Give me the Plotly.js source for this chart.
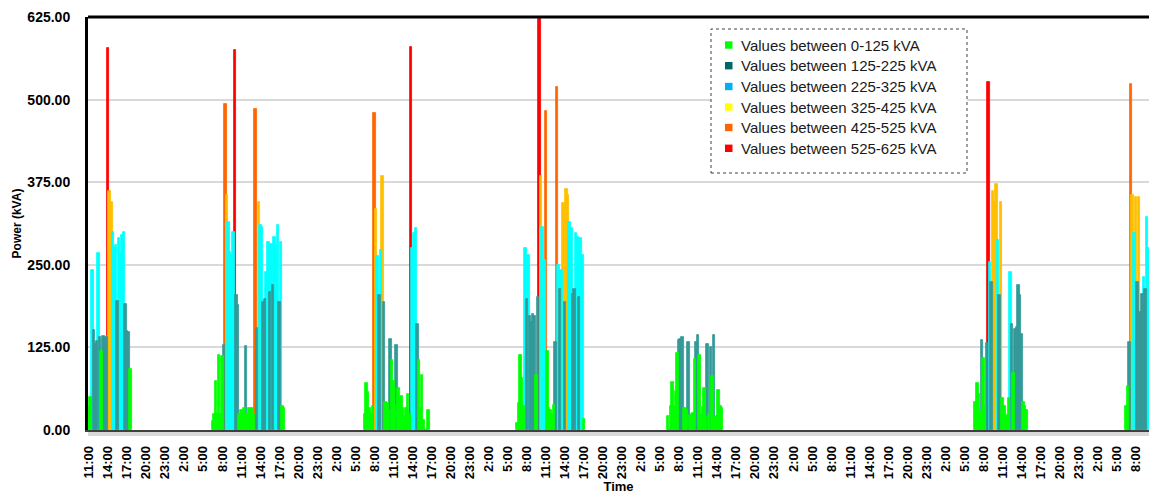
<!DOCTYPE html>
<html>
<head>
<meta charset="utf-8">
<script src="https://cdn.plot.ly/plotly-3.0.1.min.js"></script>
<style>
  html, body { margin: 0; padding: 0; background: #fff; }
  #chart { width: 1149px; height: 497px; }
</style>
</head>
<body>
<div id="chart"></div>
<script>
// Apparent power readings (kVA), one value every 15 minutes during working hours.
// Each block starts at the given timestamp; the plant is idle (0 kVA) outside them.
const startDay1 = '2019-04-02T11:00:00Z';
const powerDay1 = [35, 50, 242, 151, 130, 135, 268, 140, 120, 142, 138, 140, 578, 362, 345, 300, 275, 280, 195, 290, 270, 295, 300, 190, 150, 148, 92];

const startDay2 = '2019-04-03T06:30:00Z';
const powerDay2 = [14, 24, 74, 24, 114, 24, 112, 129, 494, 355, 315, 270, 265, 300, 575, 204, 189, 24, 30, 24, 34, 127, 24, 34, 22, 34, 24, 486, 155, 345, 310, 307, 194, 199, 239, 285, 209, 282, 219, 292, 280, 310, 194, 285, 36, 34];

const startDay3 = '2019-04-04T06:30:00Z';
const powerDay3 = [24, 71, 58, 34, 24, 36, 479, 335, 263, 204, 272, 384, 194, 43, 41, 31, 138, 106, 74, 38, 128, 63, 34, 52, 34, 21, 34, 55, 24, 580, 275, 298, 305, 161, 106, 34, 83, 15, 0, 0, 31];

const startDay4 = '2019-04-05T06:30:00Z';
const powerDay4 = [10, 41, 114, 78, 36, 275, 199, 265, 172, 164, 176, 172, 83, 201, 622, 384, 307, 258, 482, 119, 34, 30, 24, 38, 133, 519, 249, 214, 242, 343, 194, 365, 355, 315, 305, 206, 214, 298, 292, 201, 290, 265, 17];

const startDay5 = '2019-04-06T06:15:00Z';
const powerDay5 = [21, 0, 36, 72, 35, 59, 117, 136, 138, 141, 33, 33, 30, 133, 23, 24, 25, 108, 133, 144, 113, 22, 35, 63, 20, 130, 24, 125, 82, 144, 20, 21, 60, 37, 34];

const startDay7 = '2019-04-08T06:45:00Z';
const powerDay7 = [43, 71, 55, 28, 136, 109, 36, 131, 527, 254, 224, 362, 345, 373, 287, 204, 345, 48, 36, 17, 22, 48, 239, 161, 86, 153, 156, 219, 204, 146, 43, 36, 31];

const startDay8 = '2019-04-09T06:30:00Z';
const powerDay8 = [36, 66, 133, 524, 356, 298, 352, 224, 352, 179, 206, 232, 214, 323, 275];

// Value bands and their colours
const bandNames = [
  'Values between 0-125 kVA',
  'Values between 125-225 kVA',
  'Values between 225-325 kVA',
  'Values between 325-425 kVA',
  'Values between 425-525 kVA',
  'Values between 525-625 kVA'
];
const bandUpper = [125, 225, 325, 425, 525, 625];
const barColors = ['#00FF00', '#339999', '#00FFFF', '#FFC000', '#FF6600', '#FF0000'];
const keyColors = ['#00FF00', '#006666', '#00B0F0', '#FFFF00', '#FF6600', '#FF0000'];

const STEP_MS = 15 * 60 * 1000;

const blocks = [
  [startDay1, powerDay1], [startDay2, powerDay2], [startDay3, powerDay3],
  [startDay4, powerDay4], [startDay5, powerDay5], [startDay7, powerDay7],
  [startDay8, powerDay8]
];

function stamp(ms) {
  return new Date(ms).toISOString().slice(0, 19).replace('T', ' ');
}

function bandOf(v) {
  for (let b = 0; b < bandUpper.length; b++) {
    if (v < bandUpper[b]) return b;
  }
  return bandUpper.length - 1;
}

const bandX = bandNames.map(() => []);
const bandY = bandNames.map(() => []);
blocks.forEach(([start, values]) => {
  const t0 = Date.parse(start);
  values.forEach((v, i) => {
    const b = bandOf(v);
    bandX[b].push(stamp(t0 + i * STEP_MS));
    bandY[b].push(v);
  });
});

// Highest band first so the lower bands are painted on top of it
const traces = [];
for (let b = bandNames.length - 1; b >= 0; b--) {
  traces.push({
    type: 'bar',
    name: bandNames[b],
    x: bandX[b],
    y: bandY[b],
    width: STEP_MS * 1.6,
    marker: { color: barColors[b], line: { width: 0.8, color: barColors[b] } },
    showlegend: false
  });
}

const FONT = 'Liberation Sans, Arial, sans-serif';

// Key box, placed in pixel terms of the plot area (88..1149 x 17..430)
const PLOT_L = 88, PLOT_W = 1061, PLOT_B = 430, PLOT_H = 413;
const px = x => (x - PLOT_L) / PLOT_W;
const py = y => (PLOT_B - y) / PLOT_H;
const keyRows = [45, 65.7, 86.5, 107, 127.5, 148.3];

const shapes = [
  { type: 'rect', xref: 'paper', yref: 'paper', x0: px(711), x1: px(967), y0: py(173), y1: py(29),
    line: { color: '#404040', width: 1, dash: 'dot' }, fillcolor: '#ffffff', layer: 'above' },
  // heavy top border
  { type: 'line', xref: 'paper', yref: 'paper', x0: 0, x1: 1, y0: 1, y1: 1,
    line: { color: '#000000', width: 3 } },
  // floor strip under the time axis
  { type: 'rect', xref: 'paper', yref: 'paper', x0: 0, x1: 1, y0: py(436), y1: py(431),
    line: { width: 0 }, fillcolor: '#d9d9d9', layer: 'below' }
];
const annotations = [];
bandNames.forEach((name, b) => {
  const yc = keyRows[b];
  shapes.push({ type: 'rect', xref: 'paper', yref: 'paper',
    x0: px(725), x1: px(732.5), y0: py(yc + 3.7), y1: py(yc - 3.7),
    line: { width: 0 }, fillcolor: keyColors[b], layer: 'above' });
  annotations.push({ xref: 'paper', yref: 'paper', x: px(739), y: py(yc),
    xanchor: 'left', yanchor: 'middle', showarrow: false, text: name,
    font: { family: FONT, size: 15, color: '#1a1a1a' } });
});

const layout = {
  width: 1149,
  height: 497,
  margin: { l: 88, r: 0, t: 17, b: 67 },
  paper_bgcolor: '#ffffff',
  plot_bgcolor: '#ffffff',
  barmode: 'overlay',
  bargap: 0,
  showlegend: false,
  hovermode: false,
  font: { family: FONT, color: '#000000' },
  xaxis: {
    type: 'date',
    range: ['2019-04-02 10:50', '2019-04-09 10:04'],
    tick0: '2019-04-02 11:00',
    dtick: 3 * 3600 * 1000,
    tickformat: '%-H:%M',
    tickangle: -90,
    tickfont: { family: FONT, size: 13, color: '#000000', weight: 'bold' },
    ticks: 'outside',
    ticklen: 9,
    tickcolor: 'rgba(0,0,0,0)',
    showgrid: false,
    showline: true,
    linecolor: '#404040',
    linewidth: 1.5,
    zeroline: false,
    fixedrange: true,
    title: { text: 'Time', font: { family: FONT, size: 13, color: '#000000', weight: 'bold' }, standoff: 4 }
  },
  yaxis: {
    range: [0, 625],
    tick0: 0,
    dtick: 125,
    tickformat: '.2f',
    tickfont: { family: FONT, size: 14, color: '#000000', weight: 'bold' },
    ticks: 'outside',
    ticklen: 12,
    tickcolor: 'rgba(0,0,0,0)',
    showgrid: true,
    gridcolor: '#d9d9d9',
    gridwidth: 1.5,
    showline: true,
    linecolor: '#000000',
    linewidth: 3,
    zeroline: false,
    fixedrange: true,
    title: { text: 'Power (kVA)', font: { family: FONT, size: 12, color: '#000000', weight: 'bold' }, standoff: 4 }
  },
  shapes: shapes,
  annotations: annotations
};

Plotly.newPlot('chart', traces, layout, { displayModeBar: false });
</script>
</body>
</html>
